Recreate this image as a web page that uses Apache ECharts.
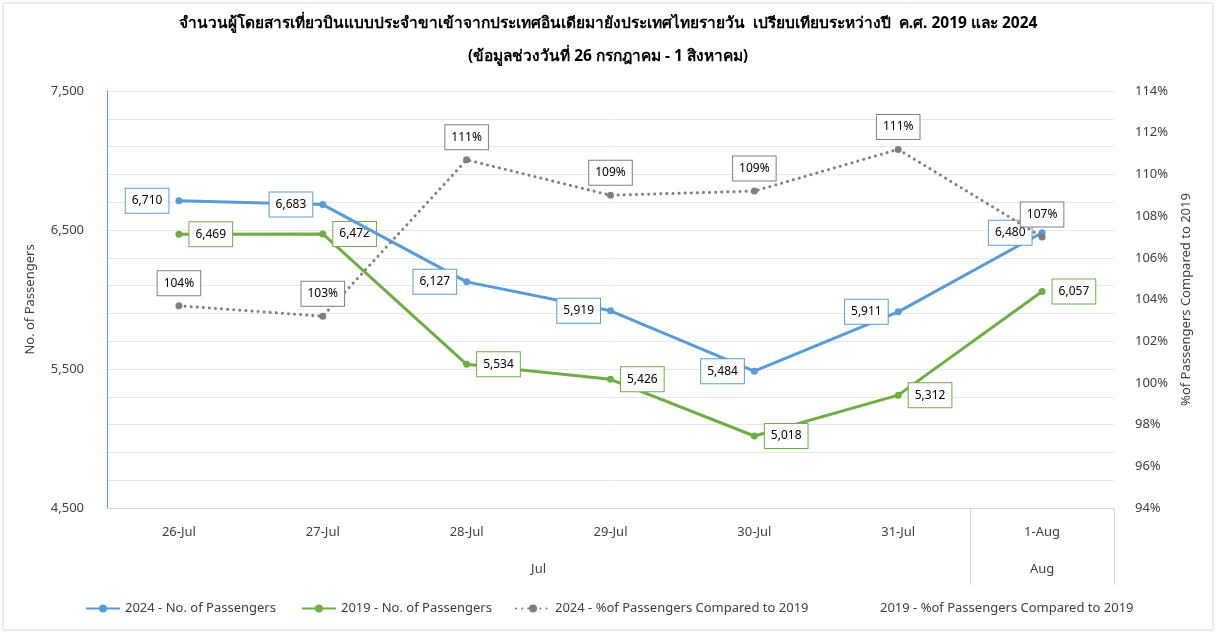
<!DOCTYPE html>
<html>
<head>
<meta charset="utf-8">
<script src="https://cdn.jsdelivr.net/npm/echarts@6/dist/echarts.min.js"></script>
<style>
html,body{margin:0;padding:0;background:#fff;}
#chart{width:1216px;height:633px;}
</style>
</head>
<body>
<div id="chart"></div>
<script>
const categories = ['26-Jul','27-Jul','28-Jul','29-Jul','30-Jul','31-Jul','1-Aug'];
const pax2024 = [6710, 6683, 6127, 5919, 5484, 5911, 6480];
const pax2019 = [6469, 6472, 5534, 5426, 5018, 5312, 6057];
const pct2024 = [103.7, 103.2, 110.7, 109.0, 109.2, 111.2, 107.0];
const pct2019 = [];
const monthGroups = ['Jul', 'Aug'];
const titleText = 'จำนวนผู้โดยสารเที่ยวบินแบบประจำขาเข้าจากประเทศอินเดียมายังประเทศไทยรายวัน  เปรียบเทียบระหว่างปี  ค.ศ. 2019 และ 2024\n(ข้อมูลช่วงวันที่ 26 กรกฎาคม - 1 สิงหาคม)';

const names = ['2024 - No. of Passengers','2019 - No. of Passengers','2024 - %of Passengers Compared to 2019','2019 - %of Passengers Compared to 2019'];
const FONT = '"Noto Sans", "DejaVu Sans", sans-serif';
const BLUE = '#5B9BD5', GREEN = '#70AD47', GRAY = '#7F7F7F';

function boxLabel(color, pos, fmt) {
  return {
    show: true, position: pos, distance: 7,
    formatter: fmt,
    color: '#000', fontSize: 12, fontFamily: FONT,
    backgroundColor: '#fff', borderColor: color, borderWidth: 1,
    padding: [6, 6, 6, 6]
  };
}
const fmtNum = p => p.value.toLocaleString('en-US');
const fmtPct = p => Math.round(p.value) + '%';

const chart = echarts.init(document.getElementById('chart'), null, {renderer: 'canvas'});
const legendText = {fontSize: 13, color: '#404040', fontFamily: FONT};
chart.setOption({
  animation: false,
  backgroundColor: '#fff',
  title: {
    text: titleText, left: 'center', top: 2,
    textStyle: {fontSize: 15.5, fontWeight: 'bold', color: '#000', lineHeight: 33, fontFamily: FONT}
  },
  graphic: [{type: 'rect', shape: {x: 3, y: 3, width: 1210, height: 627}, style: {fill: 'none', stroke: '#D9D9D9', lineWidth: 1}, silent: true}],
  legend: [
    {data: [names[0]], left: 80, top: 597, itemWidth: 34, itemHeight: 10, textStyle: legendText},
    {data: [names[1]], left: 296, top: 597, itemWidth: 34, itemHeight: 10, textStyle: legendText},
    {data: [names[2]], left: 510, top: 597, itemWidth: 34, itemHeight: 10, textStyle: legendText},
    {data: [{name: names[3], icon: 'none'}], left: 836, top: 597, itemWidth: 34, itemHeight: 10, textStyle: legendText}
  ],
  grid: {left: 107, right: 102, top: 91, bottom: 125, containLabel: false},
  xAxis: [
    {
      type: 'category', data: categories, boundaryGap: true,
      axisLine: {show: true, onZero: false, lineStyle: {color: '#D9D9D9', width: 1}},
      axisTick: {show: false},
      axisLabel: {margin: 18, fontSize: 13, color: '#404040', fontFamily: FONT}
    },
    {
      type: 'value', position: 'bottom', min: -0.5, max: 6.5,
      axisLine: {show: false, onZero: false},
      splitLine: {show: false},
      axisTick: {show: true, customValues: [5.5, 6.5], length: 77, lineStyle: {color: '#D9D9D9'}},
      axisLabel: {show: true, customValues: [2.5, 6], margin: 55, fontSize: 13, color: '#404040', fontFamily: FONT,
        formatter: v => v < 5.5 ? monthGroups[0] : monthGroups[1]}
    }
  ],
  yAxis: [
    {
      type: 'value', min: 4500, max: 7500, interval: 200, position: 'left',
      name: 'No. of Passengers', nameLocation: 'middle', nameGap: 70, nameRotate: 90,
      nameTextStyle: {fontSize: 13, color: '#404040', fontFamily: FONT},
      axisLine: {show: true, onZero: false, lineStyle: {color: BLUE, width: 1}},
      axisTick: {show: false},
      axisLabel: {margin: 23, fontSize: 13, color: '#404040', fontFamily: FONT,
        formatter: v => ((v - 4500) % 1000 === 0) ? v.toLocaleString('en-US') : ''},
      splitLine: {show: true, lineStyle: {color: '#E7E7E7', width: 1}}
    },
    {
      type: 'value', min: 94, max: 114, interval: 2, position: 'right',
      name: '%of Passengers Compared to 2019', nameLocation: 'middle', nameGap: 66, nameRotate: 90,
      nameTextStyle: {fontSize: 13, color: '#404040', fontFamily: FONT},
      axisLine: {show: false, onZero: false}, axisTick: {show: false},
      axisLabel: {margin: 21, fontSize: 13, color: '#404040', fontFamily: FONT, formatter: v => v + '%'},
      splitLine: {show: false}
    }
  ],
  series: [
    {
      name: names[0], type: 'line', data: pax2024, yAxisIndex: 0,
      symbol: 'circle', symbolSize: 7,
      lineStyle: {color: BLUE, width: 3}, itemStyle: {color: BLUE},
      label: boxLabel(BLUE, 'left', fmtNum), z: 4
    },
    {
      name: names[1], type: 'line', data: pax2019, yAxisIndex: 0,
      symbol: 'circle', symbolSize: 7,
      lineStyle: {color: GREEN, width: 3}, itemStyle: {color: GREEN},
      label: boxLabel(GREEN, 'right', fmtNum), z: 3
    },
    {
      name: names[2], type: 'line', data: pct2024, yAxisIndex: 1,
      symbol: 'circle', symbolSize: 7,
      lineStyle: {color: GRAY, width: 3, type: [0.1, 6], cap: 'round'}, itemStyle: {color: GRAY},
      label: boxLabel(GRAY, 'top', fmtPct), z: 5
    },
    {
      name: names[3], type: 'line', data: pct2019, yAxisIndex: 1,
      symbol: 'none', lineStyle: {opacity: 0}, itemStyle: {opacity: 0}
    }
  ]
});
</script>
</body>
</html>
